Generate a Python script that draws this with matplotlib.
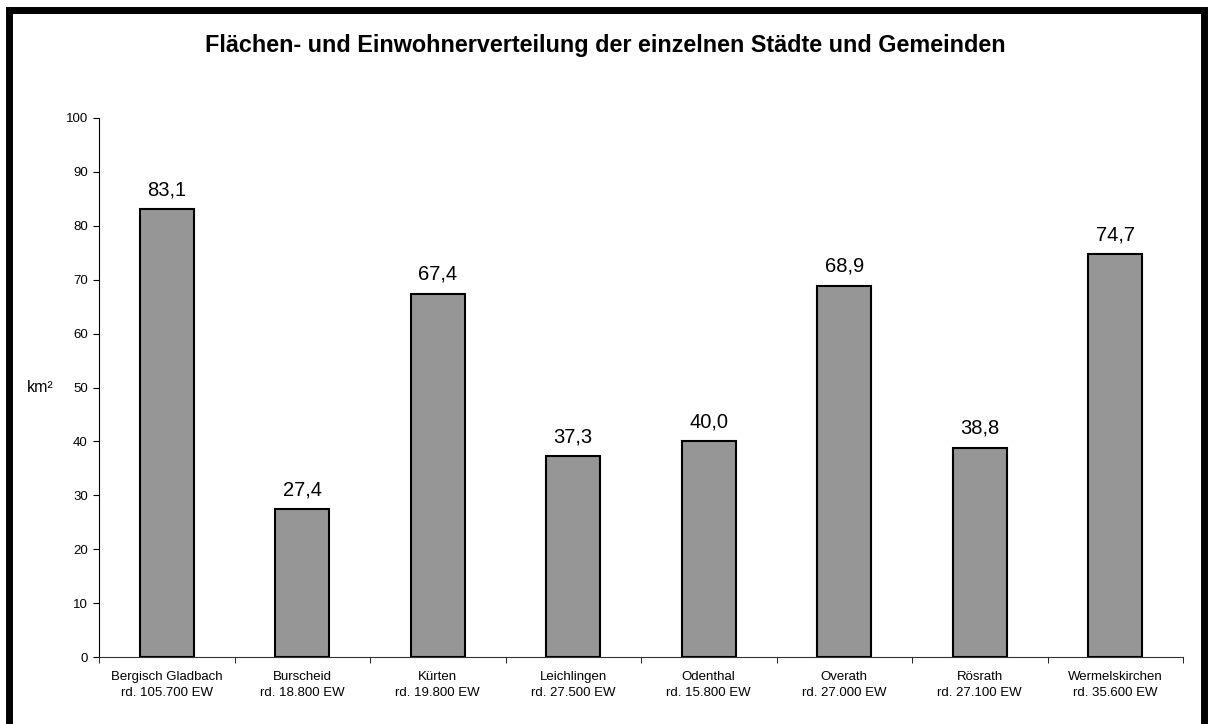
import numpy as np
import matplotlib
matplotlib.use("Agg")
import matplotlib.pyplot as plt
from matplotlib.patches import Rectangle

plt.rcParams['font.family'] = ['Liberation Sans', 'DejaVu Sans']

staedte = ["Bergisch Gladbach", "Burscheid", "Kürten", "Leichlingen",
           "Odenthal", "Overath", "Rösrath", "Wermelskirchen"]
einwohner = ["rd. 105.700 EW", "rd. 18.800 EW", "rd. 19.800 EW", "rd. 27.500 EW",
             "rd. 15.800 EW", "rd. 27.000 EW", "rd. 27.100 EW", "rd. 35.600 EW"]
flaeche = [83.1, 27.4, 67.4, 37.3, 40.0, 68.9, 38.8, 74.7]

title = "Flächen- und Einwohnerverteilung der einzelnen Städte und Gemeinden"


def main():
    fig = plt.figure(figsize=(12.1, 7.24), dpi=100)
    ax = fig.add_axes([99 / 1210, 1 - 657 / 724, (1183 - 99) / 1210, (657 - 118) / 724])

    x = np.arange(len(staedte))
    bars = ax.bar(x, flaeche, width=0.4, color="#969696", edgecolor="black", linewidth=1.5)

    for b, v in zip(bars, flaeche):
        ax.annotate(f"{v:.1f}".replace(".", ","),
                    (b.get_x() + b.get_width() / 2, v),
                    xytext=(0, 10), textcoords="offset points",
                    ha="center", va="baseline", fontsize=14.5)

    ax.set_xlim(-0.5, len(staedte) - 0.5)
    ax.set_ylim(0, 100)
    ax.set_yticks(np.arange(0, 101, 10))
    ax.set_xticks(x)
    ax.set_xticklabels([f"{s}\n{e}" for s, e in zip(staedte, einwohner)],
                       fontsize=9.5, linespacing=1.45)
    ax.set_xticks(np.arange(-0.5, len(staedte), 1), minor=True)
    ax.tick_params(axis="x", which="major", length=0, pad=10)
    ax.tick_params(axis="x", which="minor", length=4, direction="out")
    ax.tick_params(axis="y", length=4, direction="out", labelsize=9.5, pad=4)

    ax.spines["top"].set_visible(False)
    ax.spines["right"].set_visible(False)
    ax.spines["left"].set_linewidth(0.8)
    ax.spines["bottom"].set_linewidth(0.8)
    ax.spines["bottom"].set_color("#333333")

    fig.text(40 / 1210, 1 - 387 / 724, "km²", ha="center", va="center", fontsize=11.5)
    fig.text(0.5, 1 - 52 / 724, title, ha="center", va="baseline",
             fontsize=16.8, fontweight="bold")

    # Rahmen um das ganze Diagramm
    fig.add_artist(Rectangle((8.5 / 1210, -0.05), (1204 - 8.5) / 1210, 1.05 - 9.5 / 724,
                             transform=fig.transFigure, fill=False,
                             edgecolor="black", linewidth=5))

    fig.savefig("out.png", dpi=100)


if __name__ == "__main__":
    main()
